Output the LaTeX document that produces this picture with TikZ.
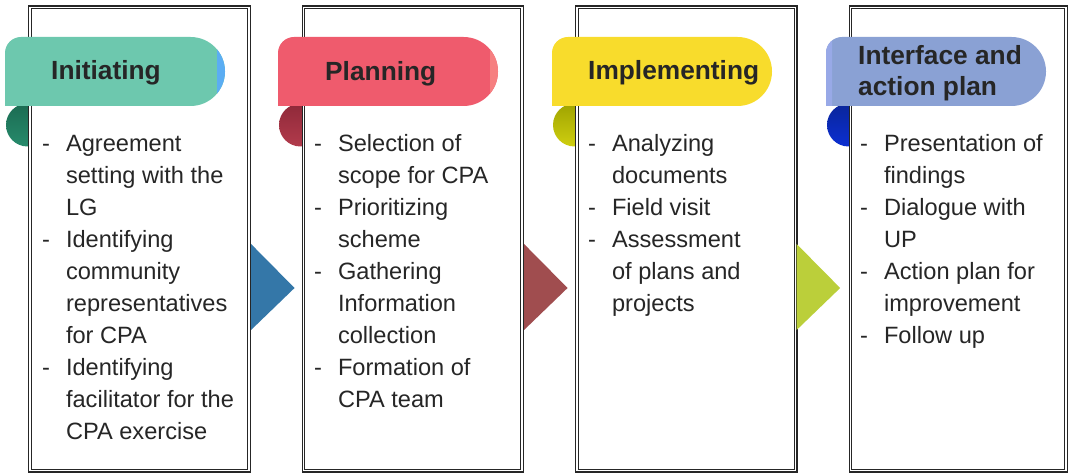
\documentclass[tikz,border=0pt]{standalone}
\usepackage{fontspec}
\setmainfont{Liberation Sans}

\definecolor{iniFill}{HTML}{6DC8AE}
\definecolor{iniTop}{HTML}{1B6B52}
\definecolor{iniBot}{HTML}{278B6C}
\definecolor{iniCap}{HTML}{5BADF3}
\definecolor{plaFill}{HTML}{EF5B6D}
\definecolor{plaTop}{HTML}{8F2939}
\definecolor{plaBot}{HTML}{B23B4C}
\definecolor{plaCap}{HTML}{F67F80}
\definecolor{impFill}{HTML}{F8DC2C}
\definecolor{impTop}{HTML}{9FA300}
\definecolor{impBot}{HTML}{CFCF10}
\definecolor{intFill}{HTML}{8AA1D4}
\definecolor{intTop}{HTML}{0A259A}
\definecolor{intBot}{HTML}{0B2FD2}
\definecolor{intCap}{HTML}{98A9E7}
\definecolor{triA}{HTML}{3477A8}
\definecolor{triB}{HTML}{A04D4F}
\definecolor{triC}{HTML}{BBCF3A}
\definecolor{frame}{HTML}{262626}
\definecolor{ink}{HTML}{262626}

\begin{document}
\begin{tikzpicture}[x=1pt,y=1pt,
  stagebox/.style={draw=frame, line width=1.1pt, double=white,
    double distance=1.6pt, fill=white, inner sep=0pt,
    minimum height=463.2pt},
  title/.style={anchor=base west, inner sep=0pt, text=ink,
    font=\fontsize{26.3}{31}\selectfont\bfseries},
  items/.style={anchor=base west, inner sep=0pt, text=ink,
    font=\fontsize{23.6}{32}\selectfont},
  roll/.style={top color=#1Top, bottom color=#1Bot}]
\useasboundingbox (0,0) rectangle (1070,474);

% rolled-under ends of the ribbons, tucked behind the boxes
\foreach \x/\c in {5/ini, 278/pla, 552/imp, 826/int}
  \shade[roll=\c] (\x+22.5,349) circle[radius=21.5];

% the four stage boxes
\node[stagebox, minimum width=219.2pt] (b1) at (139.5,235) {};
\node[stagebox, minimum width=218.7pt] (b2) at (412.75,235) {};
\node[stagebox, minimum width=218.7pt] (b3) at (686.25,235) {};
\node[stagebox, minimum width=215.7pt] (b4) at (958.25,235) {};

% ribbons with the stage titles
\foreach \x/\c in {5/iniFill, 278/plaFill, 552/impFill, 826/intFill}
  \fill[\c] (\x,368) -- (\x,421) arc[start angle=180, end angle=90, radius=16]
    -- ++(169.5,0) arc[start angle=90, end angle=-90, radius=34.5] -- cycle;

% lighter shading at the ribbon ends
\begin{scope}
  \clip (217,300) rectangle (230,450);
  \fill[iniCap] (5,368) -- (5,421) arc[start angle=180, end angle=90, radius=16]
    -- ++(169.5,0) arc[start angle=90, end angle=-90, radius=34.5] -- cycle;
\end{scope}
\begin{scope}
  \clip (490,300) rectangle (503,450);
  \fill[plaCap] (278,368) -- (278,421) arc[start angle=180, end angle=90, radius=16]
    -- ++(169.5,0) arc[start angle=90, end angle=-90, radius=34.5] -- cycle;
\end{scope}
\begin{scope}
  \clip (820,300) rectangle (832,450);
  \fill[intCap] (826,368) -- (826,421) arc[start angle=180, end angle=90, radius=16]
    -- ++(169.5,0) arc[start angle=90, end angle=-90, radius=34.5] -- cycle;
\end{scope}

\node[title] (t1) at (51,394) {Initiating};
\node[title] (t2) at (325,393) {Planning};
\node[title] (t3) at (588,394) {Implementing};
\node[title] (t4) at (858,409) {\begin{tabular}[t]{@{}l@{}}Interface and\\action plan\end{tabular}};

% arrows between the stages
\fill[triA] ([shift={(1.4,-5)}]b1.east) -- ([shift={(44.9,-49)}]b1.east)
  -- ([shift={(1.4,-91)}]b1.east) -- cycle;
\fill[triB] ([shift={(1.4,-5)}]b2.east) -- ([shift={(44.9,-49)}]b2.east)
  -- ([shift={(1.4,-91)}]b2.east) -- cycle;
\fill[triC] ([shift={(0.5,-5)}]b3.east) -- ([shift={(44,-49)}]b3.east)
  -- ([shift={(0.5,-91)}]b3.east) -- cycle;

% activities of each stage
\node[items] (l1) at (42,322) {\begin{tabular}[t]{@{}l@{\hspace{16pt}}l@{}}
-&Agreement\\ &setting with the\\ &LG\\
-&Identifying\\ &community\\ &representatives\\ &for CPA\\
-&Identifying\\ &facilitator for the\\ &CPA exercise\end{tabular}};
\node[items] (l2) at (314,322) {\begin{tabular}[t]{@{}l@{\hspace{16pt}}l@{}}
-&Selection of\\ &scope for CPA\\
-&Prioritizing\\ &scheme\\
-&Gathering\\ &Information\\ &collection\\
-&Formation of\\ &CPA team\end{tabular}};
\node[items] (l3) at (588,322) {\begin{tabular}[t]{@{}l@{\hspace{16pt}}l@{}}
-&Analyzing\\ &documents\\
-&Field visit\\
-&Assessment\\ &of plans and\\ &projects\end{tabular}};
\node[items] (l4) at (860,322) {\begin{tabular}[t]{@{}l@{\hspace{16pt}}l@{}}
-&Presentation of\\ &findings\\
-&Dialogue with\\ &UP\\
-&Action plan for\\ &improvement\\
-&Follow up\end{tabular}};
\end{tikzpicture}
\end{document}
